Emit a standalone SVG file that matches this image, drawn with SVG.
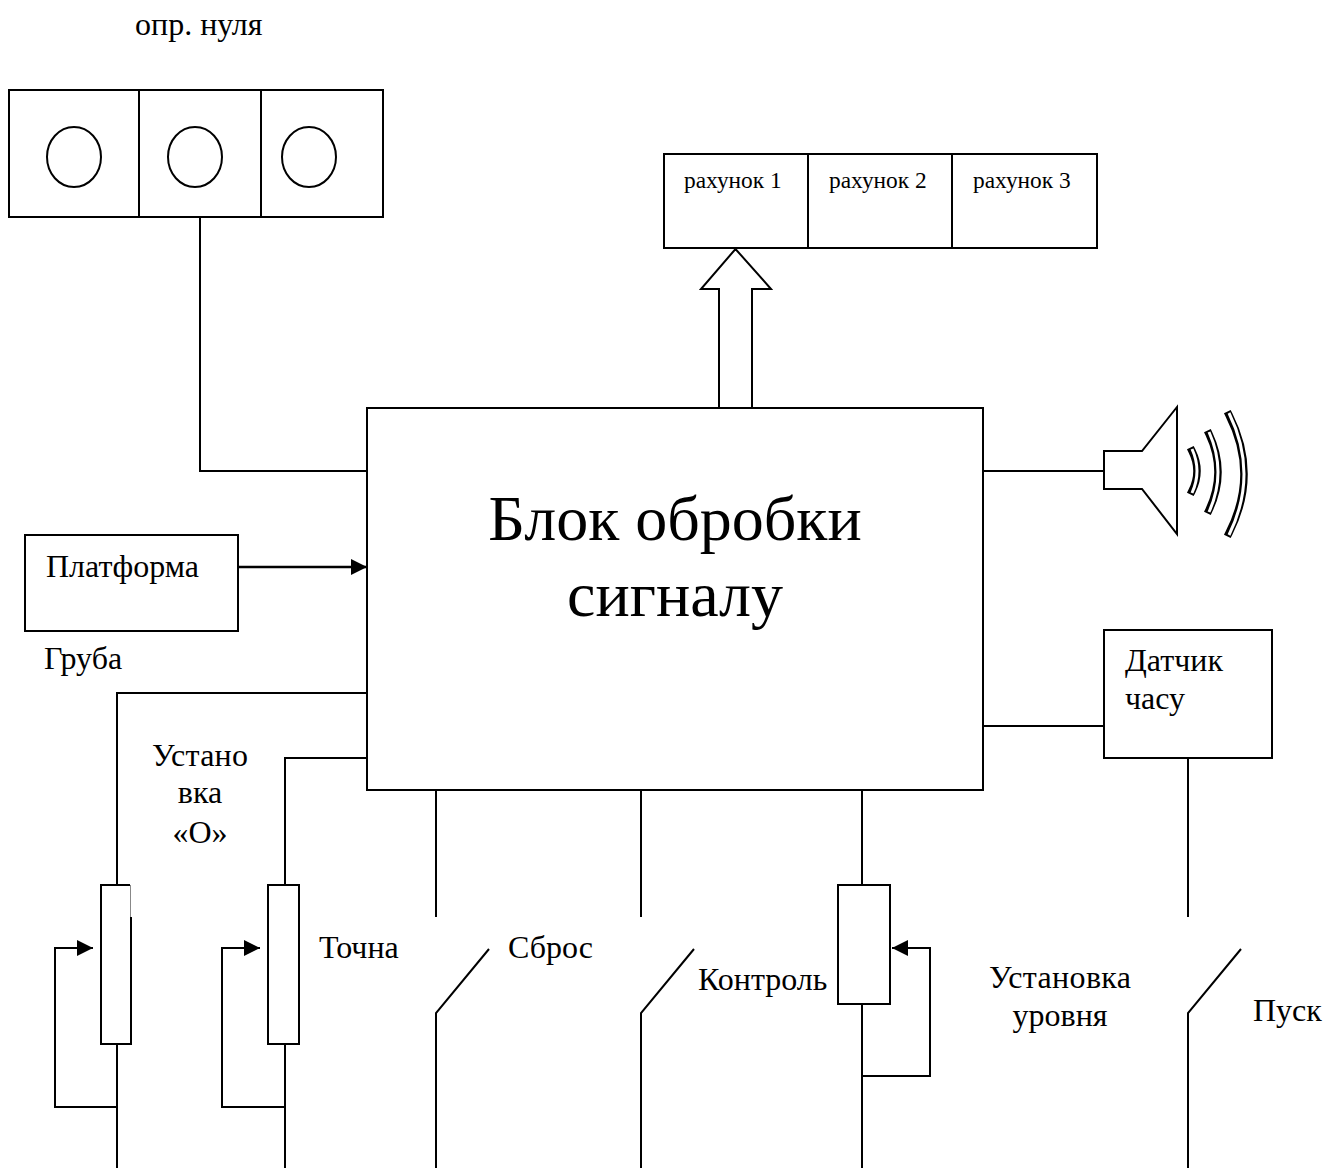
<svg xmlns="http://www.w3.org/2000/svg" width="1326" height="1168" viewBox="0 0 1326 1168">
<style>
.s{fill:none;stroke:#000;stroke-width:2}
.b{fill:#fff;stroke:#000;stroke-width:2}
text{font-family:"Liberation Serif","Times New Roman",serif;fill:#000}
.t{font-size:32px}
.m{text-anchor:middle}
.d{font-size:23.400px}
.h{font-size:64px;text-anchor:middle}
.w1{fill:none;stroke:#000;stroke-width:7.500;stroke-linecap:square}
.w2{fill:none;stroke:#fff;stroke-width:3}
</style>
<defs>
<marker id="ah" markerUnits="userSpaceOnUse" markerWidth="18" markerHeight="16" refX="16" refY="8" orient="auto"><path d="M0 0L16 8L0 16Z" fill="#000"/></marker>
</defs>
<rect width="1326" height="1168" fill="#fff"/>
<g id="connectors">
<path class="s" d="M200 217V471H367"/>
<path class="s" d="M238 567H367" marker-end="url(#ah)" style="stroke-width:2.500"/>
<path class="s" d="M367 693H117V885M117 1044V1168"/>
<path class="s" d="M367 758H285V885M285 1044V1168"/>
<path class="s" d="M117 1107H55V948H93" marker-end="url(#ah)"/>
<path class="s" d="M285 1107H222V948H260" marker-end="url(#ah)"/>
<path class="s" d="M436 790V917M436 1168V1013L489 949"/>
<path class="s" d="M641 790V917M641 1168V1013L694 949"/>
<path class="s" d="M862 790V885M862 1004V1168"/>
<path class="s" d="M862 1076H930V948H892" marker-end="url(#ah)"/>
<path class="s" d="M1188 758V917M1188 1168V1013L1241 949"/>
<path class="s" d="M983 471H1104"/>
<path class="s" d="M983 726H1104"/>
</g>
<g id="zero-indicator">
<rect class="b" x="9" y="90" width="374" height="127"/>
<path class="s" d="M139 90V217M261 90V217"/>
<ellipse class="s" cx="74" cy="157" rx="27" ry="30"/>
<ellipse class="s" cx="195" cy="157" rx="27" ry="30"/>
<ellipse class="s" cx="309" cy="157" rx="27" ry="30"/>
<text class="t" x="135" y="35">опр. нуля</text>
</g>
<g id="counters">
<rect class="b" x="664" y="154" width="433" height="94"/>
<path class="s" d="M808 154V248M952 154V248"/>
<text class="d" x="684" y="188">рахунок 1</text>
<text class="d" x="829" y="188">рахунок 2</text>
<text class="d" x="973" y="188">рахунок 3</text>
</g>
<g id="bus-arrow"><path class="b" d="M719 408V289H701L735.500 249L771 289H752V408"/></g>
<g id="processor">
<rect class="b" x="367" y="408" width="616" height="382"/>
<text class="h" x="675" y="540">Блок обробки</text>
<text class="h" x="675" y="616">сигналу</text>
</g>
<g id="speaker">
<path class="b" d="M1104 451H1142L1177 407V534L1142 489H1104Z"/>
<path class="w1" d="M1192 451Q1202 471 1192 491"/><path class="w2" d="M1192 449Q1202 471 1192 493"/>
<path class="w1" d="M1209 434Q1227 472 1209 510"/><path class="w2" d="M1209 432Q1227 472 1209 512"/>
<path class="w1" d="M1229 415Q1259 474 1229 533"/><path class="w2" d="M1229 413Q1259 474 1229 535"/>
</g>
<g id="platform">
<rect class="b" x="25" y="535" width="213" height="96"/>
<text class="t" x="46" y="577">Платформа</text>
</g>
<g id="timer">
<rect class="b" x="1104" y="630" width="168" height="128"/>
<text class="t" x="1125" y="671">Датчик</text>
<text class="t" x="1125" y="709">часу</text>
</g>
<g id="coarse-pot">
<path class="s" d="M131 917V1044H101V885H130"/>
<path d="M130.500 885V917" stroke="#888" stroke-width="1" fill="none"/>
<text class="t" x="44" y="669">Груба</text>
<text class="t" x="152" y="766" textLength="96">Устано</text>
<text class="t m" x="200" y="803">вка</text>
<text class="t m" x="200" y="843">«О»</text>
</g>
<g id="fine-pot">
<rect class="b" x="268" y="885" width="31" height="159"/>
<text class="t" x="319" y="958">Точна</text>
</g>
<g id="reset-switch"><text class="t" x="508" y="958">Сброс</text></g>
<g id="control-switch"><text class="t" x="698" y="990">Контроль</text></g>
<g id="level-pot">
<rect class="b" x="838" y="885" width="52" height="119"/>
<text class="t" x="989" y="988" textLength="142">Установка</text>
<text class="t m" x="1060" y="1026">уровня</text>
</g>
<g id="start-switch"><text class="t" x="1253" y="1021">Пуск</text></g>
</svg>
